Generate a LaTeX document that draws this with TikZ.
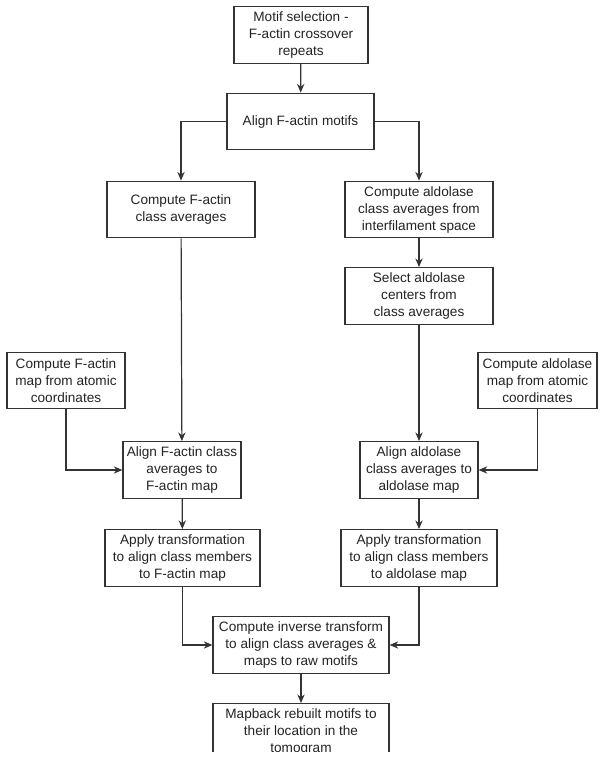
\documentclass[tikz,border=0pt]{standalone}
\usepackage{fontspec}
\setmainfont{Liberation Sans}
\usetikzlibrary{arrows.meta}

\begin{document}
\begin{tikzpicture}[x=0.75pt,y=0.75pt,yscale=-1,
  box/.style={draw={rgb, 255:red, 51; green, 51; blue, 51 }, line width=0.9pt, align=center, inner sep=0.75pt, minimum height=42.5pt, font=\fontsize{10.2}{12.75}\selectfont, text={rgb, 255:red, 35; green, 35; blue, 35 }},
  conn/.style={draw={rgb, 255:red, 51; green, 51; blue, 51 }, line width=0.9pt, -{Stealth[length=6.5pt,width=5.5pt]}}]
\useasboundingbox (0,0) rectangle (604,758);
\clip (0,0) rectangle (604,751);

% Text Node
\draw (301,35) node [box, minimum width=100.5pt] (motif) {Motif selection -\\F-actin crossover\\repeats};
% Text Node
\draw (300.5,121.5) node [box, minimum width=110.25pt] (alignmot) {Align F-actin motifs};
% Text Node
\draw (181,209.5) node [box, minimum width=111pt] (actavg) {Compute F-actin\\class averages};
% Text Node
\draw (419,209.5) node [box, minimum width=111pt] (aldavg) {Compute aldolase\\class averages from\\interfilament space};
% Text Node
\draw (419,296) node [box, minimum width=111pt] (aldsel) {Select aldolase\\centers from\\class averages};
% Text Node
\draw (66,380.5) node [box, minimum width=88.5pt] (actmap) {Compute F-actin\\map from atomic\\coordinates};
% Text Node
\draw (537.5,380.5) node [box, minimum width=89.25pt] (aldmap) {Compute aldolase\\map from atomic\\coordinates};
% Text Node
\draw (182,470) node [box, minimum width=88.5pt] (actalign) {Align F-actin class\\averages to\\F-actin map};
% Text Node
\draw (419,470) node [box, minimum width=88.5pt] (aldalign) {Align aldolase\\class averages to\\aldolase map};
% Text Node
\draw (182.5,558) node [box, minimum width=116.25pt] (actapply) {Apply transformation\\to align class members\\to F-actin map};
% Text Node
\draw (419,558) node [box, minimum width=117pt] (aldapply) {Apply transformation\\to align class members\\to aldolase map};
% Text Node
\draw (301,645) node [box, minimum width=132pt] (inverse) {Compute inverse transform\\to align class averages \&\\maps to raw motifs};
% Text Node
\draw (301,732) node [box, minimum width=132pt] (mapback) {Mapback rebuilt motifs to\\their location in the\\tomogram};

%Straight Lines
\draw [conn] (motif) -- (alignmot);
\draw [conn] (alignmot.west) -| (actavg.north);
\draw [conn] (alignmot.east) -| (aldavg.north);
\draw [conn] (aldavg) -- (aldsel);
\draw [conn] (actavg) -- (actalign);
\draw [conn] (aldsel) -- (aldalign);
%Straight Lines
\draw [conn] (actmap.south) |- (actalign.west);
\draw [conn] (aldmap.south) |- (aldalign.east);
\draw [conn] (actalign) -- (actapply);
\draw [conn] (aldalign) -- (aldapply);
%Straight Lines
\draw [conn] (actapply.south) |- (inverse.west);
\draw [conn] (aldapply.south) |- (inverse.east);
\draw [conn] (inverse) -- (mapback);

\end{tikzpicture}
\end{document}
